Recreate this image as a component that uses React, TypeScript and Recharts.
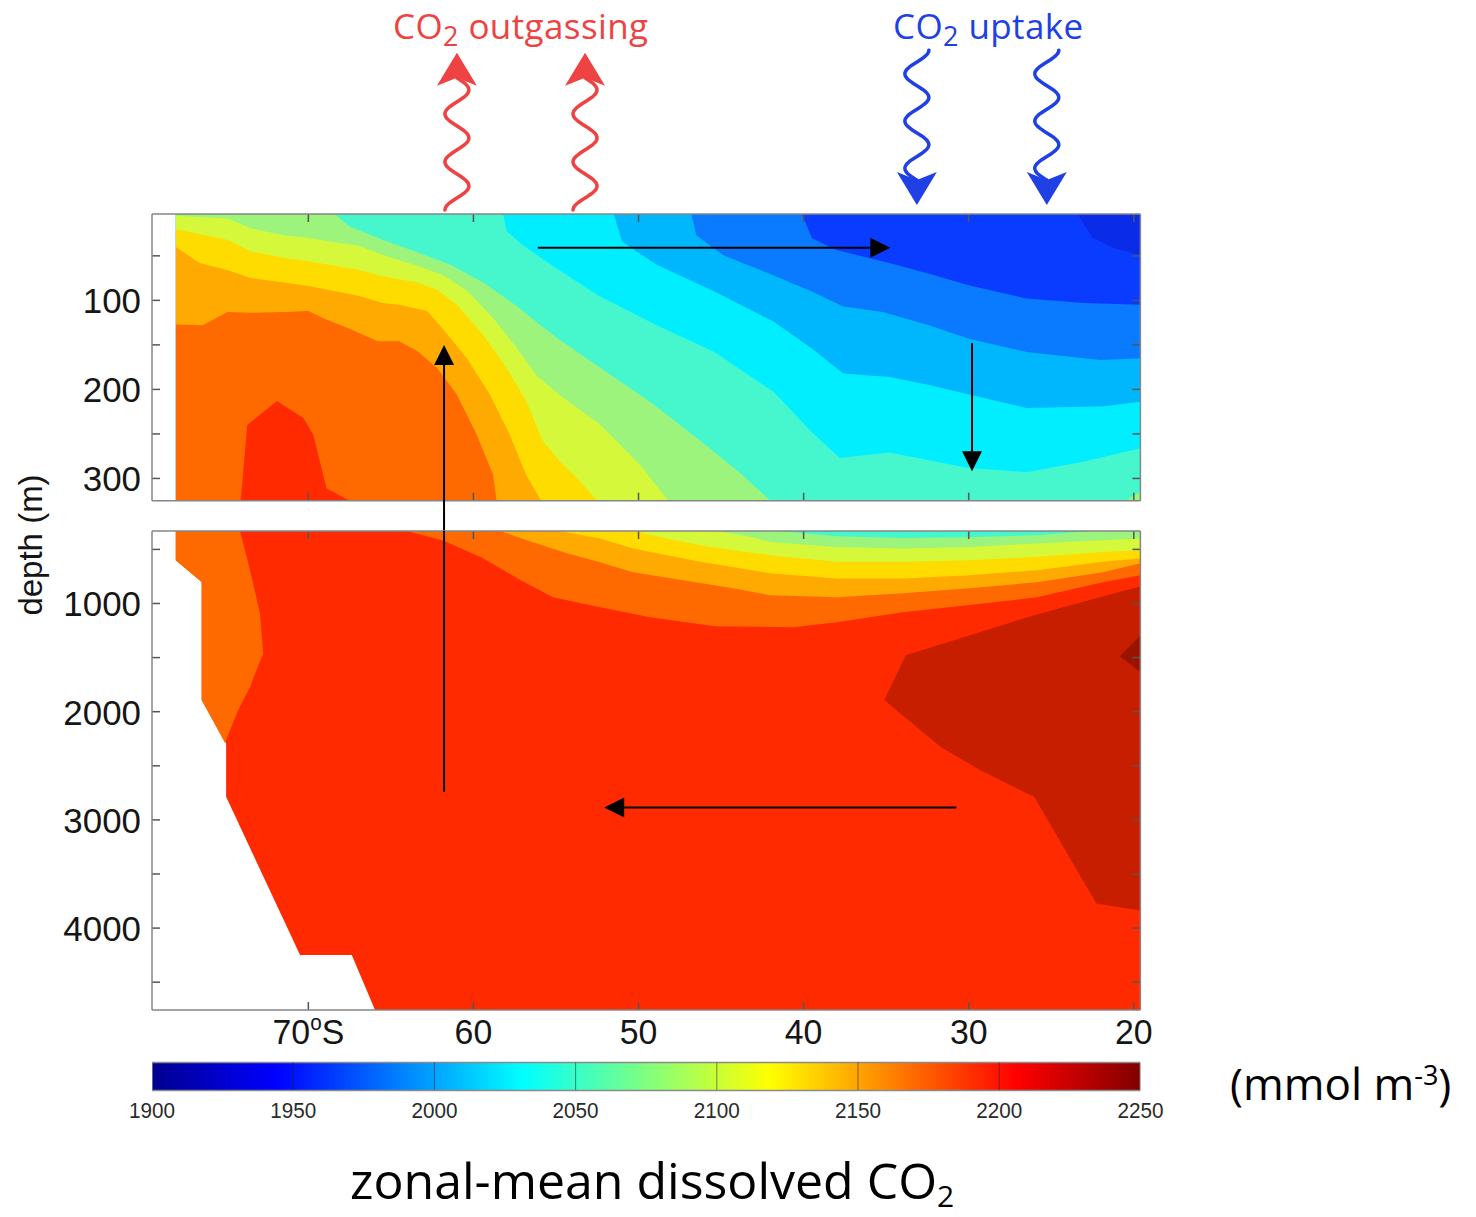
import React from 'react'
import {
  ComposedChart, Area, XAxis, YAxis, ReferenceLine, BarChart, Bar,
} from 'recharts'

type Pt = [number, number]          // [latitude S, depth m]
type Span = [number, number, number] // [latitude S, top depth, bottom depth]

const W = 1476
const H = 1217

// shared latitude axis (degrees S, 70S on the left)
const LAT_DOMAIN: [number, number] = [19.6, 79.47]
const LAT_TICKS = [70, 60, 50, 40, 30, 20]

// upper panel (surface layer)
const UPPER_DOMAIN: [number, number] = [3, 325]
const UPPER_TICKS = [50, 100, 150, 200, 250, 300]
const UPPER_LABELS = [100, 200, 300]

// lower panel (deep ocean)
const LOWER_DOMAIN: [number, number] = [330, 4757]
const LOWER_TICKS = [500, 1000, 1500, 2000, 2500, 3000, 3500, 4000, 4500]
const LOWER_LABELS = [1000, 2000, 3000, 4000]

// colour bar, mmol m-3
const CO2_DOMAIN: [number, number] = [1900, 2250]
const CO2_TICKS = [1900, 1950, 2000, 2050, 2100, 2150, 2200, 2250]
const CO2_BAR = [{ name: 'dic', range: [1900, 2250] }]
const JET_STOPS: [number, string][] = [
  [0, '#00008f'], [0.125, '#0000ff'], [0.375, '#00ffff'],
  [0.625, '#ffff00'], [0.875, '#ff0000'], [1, '#800000'],
]

// filled contour colours, 1925-1950 ... 2250+
const BAND = [
  '#0a2ce8', '#0a3cff', '#0a7aff', '#00b6fc', '#00eeff', '#46f6cc', '#9cf47c',
  '#d6f83a', '#ffdc00', '#ffaa00', '#ff6a00', '#ff2a00', '#c81e00', '#9a1200',
]

// ---- upper panel contours: values above each level lie below the line ----
const UPPER_EXTENT: Pt[] = [[78.02, 3], [19.6, 3]]
const U1950: Pt[] = [[78.02, 3], [23.4, 3], [23.1, 12], [22.5, 30], [21.1, 42], [19.6, 49]]
const U1975: Pt[] = [[78.02, 3], [40.1, 3], [39.5, 30], [38.1, 43], [34.8, 58], [32.4, 70], [30.0, 83], [26.5, 98], [23.0, 103], [19.6, 105]]
const U2000: Pt[] = [[78.02, 3], [46.8, 3], [46.5, 27], [44.9, 49], [41.8, 72], [39.5, 90], [37.6, 107], [35.2, 113], [32.4, 128], [30.0, 143], [26.5, 158], [22.0, 167], [19.6, 165]]
const U2025: Pt[] = [[78.02, 3], [51.5, 3], [51.0, 34], [48.9, 60], [45.4, 90], [41.8, 124], [39.5, 154], [37.6, 182], [34.8, 186], [32.4, 195], [26.5, 221], [21.8, 219], [19.6, 214]]
const U2050: Pt[] = [[78.02, 3], [58.2, 3], [58.0, 22], [57.0, 38], [55.7, 55], [52.5, 94], [48.9, 128], [45.4, 158], [41.8, 203], [39.5, 248], [37.8, 277], [34.8, 271], [30.1, 288], [26.5, 293], [23.0, 281], [19.6, 266]]
const U2075: Pt[] = [[78.02, 3], [68.4, 3], [67.5, 17], [65.5, 32], [63.4, 46], [61.4, 60], [59.4, 80], [57.4, 106], [55.8, 130], [54.8, 144], [52.3, 176], [49.3, 214], [46.3, 257], [43.9, 293], [42.0, 325], [20.5, 325], [19.6, 315]]
const U2100: Pt[] = [[78.02, 5], [74.9, 8], [73.5, 19], [71.5, 27], [70.0, 30], [66.9, 39], [65.5, 49], [63.4, 61], [61.8, 72], [60.4, 89], [58.8, 120], [57.4, 153], [56.2, 184], [54.8, 206], [52.3, 240], [49.9, 285], [48.2, 325], [19.6, 325]]
const U2125: Pt[] = [[78.02, 20], [74.9, 32], [73.5, 45], [71.5, 52], [70.0, 56], [66.9, 66], [65.5, 73], [63.4, 80], [62.2, 88], [61.0, 105], [59.4, 139], [58.0, 176], [56.8, 213], [55.8, 258], [54.8, 280], [53.6, 302], [52.5, 325], [19.6, 325]]
const U2150: Pt[] = [[78.02, 40], [76.6, 58], [74.9, 66], [73.5, 75], [71.5, 80], [70.0, 84], [66.9, 95], [65.5, 103], [64.5, 105], [62.8, 112], [61.9, 131], [60.4, 165], [59.0, 206], [57.8, 251], [56.8, 296], [55.9, 325], [19.6, 325]]
const U2175: Pt[] = [[78.02, 127], [76.4, 128], [74.9, 113], [73.5, 114], [71.5, 113], [70.0, 112], [69.1, 120], [67.5, 132], [65.8, 146], [64.5, 146], [63.4, 157], [62.2, 176], [61.0, 206], [59.8, 251], [58.8, 296], [58.6, 325], [19.6, 325]]
const U2200: Pt[] = [[74.1, 325], [73.7, 240], [71.9, 213], [70.3, 232], [69.7, 251], [68.9, 311], [67.5, 325]]

// ---- lower panel ----
const OCEAN_FLOOR: Pt[] = [[78.03, 600], [76.46, 801], [76.46, 1893], [74.98, 2293], [74.98, 2787], [70.5, 4249], [67.37, 4249], [65.96, 4757], [19.6, 4757]]
const L_WEST_2200: Span[] = [[78.03, 330, 600], [76.46, 330, 801], [76.46, 330, 1893], [75.05, 330, 2290], [74.34, 330, 2016], [74.14, 330, 1951], [73.53, 692, 1771], [72.93, 1092, 1533], [72.73, 1462, 1462]]
// values below each level lie above the line
const L2200: Pt[] = [[64.04, 330], [61.84, 417], [59.42, 581], [57.36, 766], [55.18, 942], [52.33, 1034], [49.31, 1127], [45.37, 1210], [40.65, 1219], [37.99, 1173], [33.99, 1080], [29.93, 1015], [25.87, 942], [21.87, 803], [19.6, 738]]
const L2175: Pt[] = [[58.39, 330], [56.39, 433], [54.33, 535], [52.33, 618], [50.33, 711], [47.3, 785], [44.28, 859], [42.04, 923], [37.99, 942], [33.99, 905], [29.93, 859], [25.87, 803], [21.87, 711], [19.6, 627]]
const L2150: Pt[] = [[54.76, 330], [52.33, 399], [50.33, 492], [48.28, 553], [46.28, 615], [44.28, 662], [42.04, 720], [37.99, 769], [33.99, 769], [29.93, 738], [25.87, 692], [21.87, 615], [19.6, 584]]
const L2125: Pt[] = [[50.31, 330], [48.29, 399], [46.28, 461], [44.26, 507], [42.04, 553], [38.0, 615], [33.99, 615], [29.93, 600], [25.87, 569], [21.87, 523], [19.6, 507]]
const L2100: Pt[] = [[45.26, 330], [43.24, 384], [42.04, 431], [38.0, 477], [33.99, 492], [29.93, 477], [25.87, 445], [21.87, 415], [19.6, 399]]
const L2075: Pt[] = [[41.43, 330], [38.0, 378], [33.99, 394], [29.93, 387], [25.87, 369], [22.66, 330]]
const L2225: Span[] = [[35.11, 1893, 1893], [33.81, 1478, 2058], [31.69, 1376, 2326], [29.33, 1265, 2539], [26.03, 1108, 2789], [22.27, 951, 3772], [19.6, 840, 3837]]
const L2250: Span[] = [[20.84, 1488, 1488], [19.6, 1293, 1634]]

// ---- circulation arrows [lat, depth] ----
const FLOW_SURFACE: Pt[] = [[56.1, 41], [34.75, 41]]
const FLOW_SINK: Pt[] = [[29.8, 148], [29.8, 292]]
const FLOW_RISE_UPPER: Pt[] = [[61.78, 359], [61.78, 150]]
const FLOW_RISE_LOWER: Pt[] = [[61.78, 2740], [61.78, 330]]
const FLOW_DEEP: Pt[] = [[30.75, 2885], [52.08, 2885]]

// air-sea exchange arrows (lat) and their depth extent above the surface
const OUTGAS_LATS = [61.0, 53.24]
const OUTGAS_DEPTHS: [number, number] = [-1.5, -178]
const UPTAKE_LATS = [33.14, 25.27]
const UPTAKE_DEPTHS: [number, number] = [-181, -7]

const FRAME = '#868686'
const TICK = '#555'
const TICK_FONT = '"Liberation Sans", Arial, Helvetica, sans-serif'
const TITLE_FONT = '"Open Sans", "DejaVu Sans", sans-serif'
const RED = '#ef4242'
const BLUE = '#1f40e4'

const below = (pts: Pt[]) => pts.map(([lat, d]) => ({ lat, v: [d, UPPER_DOMAIN[1]] }))
const above = (pts: Pt[]) => pts.map(([lat, d]) => ({ lat, v: [LOWER_DOMAIN[0], d] }))
const spans = (pts: Span[]) => pts.map(([lat, a, b]) => ({ lat, v: [a, b] }))

const UPPER_LAYERS = [
  { id: 'u1925', color: BAND[0], data: below(UPPER_EXTENT) },
  { id: 'u1950', color: BAND[1], data: below(U1950) },
  { id: 'u1975', color: BAND[2], data: below(U1975) },
  { id: 'u2000', color: BAND[3], data: below(U2000) },
  { id: 'u2025', color: BAND[4], data: below(U2025) },
  { id: 'u2050', color: BAND[5], data: below(U2050) },
  { id: 'u2075', color: BAND[6], data: below(U2075) },
  { id: 'u2100', color: BAND[7], data: below(U2100) },
  { id: 'u2125', color: BAND[8], data: below(U2125) },
  { id: 'u2150', color: BAND[9], data: below(U2150) },
  { id: 'u2175', color: BAND[10], data: below(U2175) },
  { id: 'u2200', color: BAND[11], data: below(U2200) },
]

const LOWER_LAYERS = [
  { id: 'l-ocean', color: BAND[11], data: above(OCEAN_FLOOR) },
  { id: 'l-west', color: BAND[10], data: spans(L_WEST_2200) },
  { id: 'l2200', color: BAND[10], data: above(L2200) },
  { id: 'l2175', color: BAND[9], data: above(L2175) },
  { id: 'l2150', color: BAND[8], data: above(L2150) },
  { id: 'l2125', color: BAND[7], data: above(L2125) },
  { id: 'l2100', color: BAND[6], data: above(L2100) },
  { id: 'l2075', color: BAND[5], data: above(L2075) },
  { id: 'l2225', color: BAND[12], data: spans(L2225) },
  { id: 'l2250', color: BAND[13], data: spans(L2250) },
]

// ---- tick labels (labels only; the marks are drawn as reference lines on top) ----
const leftLabel = (labels: number[]) => (p: any) => {
  const { x, y, payload } = p
  if (!labels.includes(payload.value)) return <g />
  return (
    <text transform={`translate(${x - 1},${y + 13}) scale(0.97,1)`} textAnchor="end"
      fontSize={36} fontFamily={TICK_FONT} fill="#151515">{payload.value}</text>
  )
}
const latLabel = (p: any) => {
  const { x, y, payload } = p
  const v = payload.value
  return (
    <text transform={`translate(${x},${y + 34}) scale(0.94,1)`} textAnchor="middle"
      fontSize={36} fontFamily={TICK_FONT} fill="#151515">
      {v}
      {v === 70 && <tspan fontSize={22} dy={-14}>o</tspan>}
      {v === 70 && <tspan dy={14}>S</tspan>}
    </text>
  )
}
const colorbarTick = (p: any) => (
  <text transform={`translate(${p.x},${p.y + 28}) scale(0.94,1)`} textAnchor="middle"
    fontSize={22} fontFamily={TICK_FONT} fill="#2a2a2a">{p.payload.value}</text>
)

// inward tick marks at both ends of a reference line
const endTicks = (p: any) => {
  const { x1, y1, x2, y2 } = p
  const n = 8
  if (Math.abs(y1 - y2) < 0.5) {
    const a = Math.min(x1, x2)
    const b = Math.max(x1, x2)
    return (
      <g stroke={TICK} strokeWidth={1.5}>
        <line x1={a} x2={a + n} y1={y1} y2={y1} />
        <line x1={b - n} x2={b} y1={y1} y2={y1} />
      </g>
    )
  }
  const a = Math.min(y1, y2)
  const b = Math.max(y1, y2)
  return (
    <g stroke={TICK} strokeWidth={1.5}>
      <line x1={x1} x2={x1} y1={a} y2={a + n} />
      <line x1={x1} x2={x1} y1={b - n} y2={b} />
    </g>
  )
}

// ---- arrow shapes ----
const arrowShape = (head: boolean) => (p: any) => {
  const { x1, y1, x2, y2 } = p
  const dx = x2 - x1
  const dy = y2 - y1
  const len = Math.hypot(dx, dy) || 1
  const ux = dx / len
  const uy = dy / len
  const hl = head ? 20 : 0
  const hw = 10
  const bx = x2 - ux * hl
  const by = y2 - uy * hl
  return (
    <g>
      <line x1={x1} y1={y1} x2={bx} y2={by} stroke="#000" strokeWidth={2} />
      {head && (
        <polygon points={`${x2},${y2} ${bx - uy * hw},${by + ux * hw} ${bx + uy * hw},${by - ux * hw}`} fill="#000" />
      )}
    </g>
  )
}

const wavyShape = (color: string, phase: number) => (p: any) => {
  const { x1, y1, x2, y2 } = p
  const dir = y2 > y1 ? 1 : -1
  const notch = 25
  const barb = 33
  const half = 20
  const amp = 12
  const len = Math.abs(y2 - y1) - notch
  const period = len / 2.75
  const pts: string[] = []
  for (let s = 0; s < len; s += 1.5) {
    const off = phase * amp * Math.cos((2 * Math.PI * s) / period)
    pts.push(`${(x1 + off).toFixed(1)},${(y1 + dir * s).toFixed(1)}`)
  }
  pts.push(`${x1},${(y1 + dir * len).toFixed(1)}`)
  const headPath = `M${x2},${y2}L${x2 + half},${y2 - dir * barb}L${x2},${y2 - dir * notch}L${x2 - half},${y2 - dir * barb}Z`
  return (
    <g>
      <path d={'M' + pts.join('L')} fill="none" stroke={color} strokeWidth={3.5} strokeLinecap="round" />
      <path d={headPath} fill={color} />
    </g>
  )
}

const seg = (a: Pt, b: Pt) => [{ x: a[0], y: a[1] }, { x: b[0], y: b[1] }]

// box + inward ticks, drawn above the filled contours
function frameLines(domain: [number, number], ticks: number[]) {
  return [
    ...LAT_TICKS.map((v) => (
      <ReferenceLine key={'xt' + v} xAxisId="b" yAxisId="l" x={v} ifOverflow="visible" shape={endTicks} />
    )),
    ...ticks.map((v) => (
      <ReferenceLine key={'yt' + v} xAxisId="b" yAxisId="l" y={v} ifOverflow="visible" shape={endTicks} />
    )),
    ...LAT_DOMAIN.map((v) => (
      <ReferenceLine key={'fx' + v} xAxisId="b" yAxisId="l" x={v} ifOverflow="visible" stroke={FRAME} strokeWidth={1.5} />
    )),
    ...domain.map((v) => (
      <ReferenceLine key={'fy' + v} xAxisId="b" yAxisId="l" y={v} ifOverflow="visible" stroke={FRAME} strokeWidth={1.5} />
    )),
  ]
}

function UpperPanel() {
  return (
    <ComposedChart width={W} height={H} margin={{ top: 214, right: 335.6, bottom: 716.3, left: 82 }}>
      {UPPER_LAYERS.map((layer) => (
        <Area key={layer.id} data={layer.data} dataKey="v" xAxisId="b" yAxisId="l" type="linear"
          stroke="none" fill={layer.color} fillOpacity={1} dot={false} activeDot={false}
          isAnimationActive={false} />
      ))}
      <XAxis xAxisId="b" dataKey="lat" type="number" domain={LAT_DOMAIN} reversed allowDataOverflow
        ticks={LAT_TICKS} interval={0} height={0} tickLine={false} axisLine={false} tick={false} />
      <YAxis yAxisId="l" type="number" domain={UPPER_DOMAIN} reversed allowDataOverflow
        ticks={UPPER_TICKS} interval={0} width={70} tickSize={0} tickMargin={10} tickLine={false}
        axisLine={false} tick={leftLabel(UPPER_LABELS)} />
      {frameLines(UPPER_DOMAIN, UPPER_TICKS)}
      <ReferenceLine xAxisId="b" yAxisId="l" segment={seg(FLOW_SURFACE[0], FLOW_SURFACE[1])} ifOverflow="visible" shape={arrowShape(true)} />
      <ReferenceLine xAxisId="b" yAxisId="l" segment={seg(FLOW_SINK[0], FLOW_SINK[1])} ifOverflow="visible" shape={arrowShape(true)} />
      <ReferenceLine xAxisId="b" yAxisId="l" segment={seg(FLOW_RISE_UPPER[0], FLOW_RISE_UPPER[1])} ifOverflow="visible" shape={arrowShape(true)} />
      {OUTGAS_LATS.map((lat) => (
        <ReferenceLine key={'o' + lat} xAxisId="b" yAxisId="l" ifOverflow="visible"
          segment={seg([lat, OUTGAS_DEPTHS[0]], [lat, OUTGAS_DEPTHS[1]])} shape={wavyShape(RED, -1)} />
      ))}
      {UPTAKE_LATS.map((lat) => (
        <ReferenceLine key={'u' + lat} xAxisId="b" yAxisId="l" ifOverflow="visible"
          segment={seg([lat, UPTAKE_DEPTHS[0]], [lat, UPTAKE_DEPTHS[1]])} shape={wavyShape(BLUE, 1)} />
      ))}
    </ComposedChart>
  )
}

function LowerPanel() {
  return (
    <ComposedChart width={W} height={H} margin={{ top: 531, right: 335.6, bottom: 157, left: 82 }}>
      {LOWER_LAYERS.map((layer) => (
        <Area key={layer.id} data={layer.data} dataKey="v" xAxisId="b" yAxisId="l" type="linear"
          stroke="none" fill={layer.color} fillOpacity={1} dot={false} activeDot={false}
          isAnimationActive={false} />
      ))}
      <XAxis xAxisId="b" dataKey="lat" type="number" domain={LAT_DOMAIN} reversed allowDataOverflow
        ticks={LAT_TICKS} interval={0} height={50} tickSize={0} tickMargin={0} tickLine={false}
        axisLine={false} tick={latLabel} />
      <YAxis yAxisId="l" type="number" domain={LOWER_DOMAIN} reversed allowDataOverflow
        ticks={LOWER_TICKS} interval={0} width={70} tickSize={0} tickMargin={10} tickLine={false}
        axisLine={false} tick={leftLabel(LOWER_LABELS)} />
      {frameLines(LOWER_DOMAIN, LOWER_TICKS)}
      <ReferenceLine xAxisId="b" yAxisId="l" segment={seg(FLOW_RISE_LOWER[0], FLOW_RISE_LOWER[1])} ifOverflow="visible" shape={arrowShape(false)} />
      <ReferenceLine xAxisId="b" yAxisId="l" segment={seg(FLOW_DEEP[0], FLOW_DEEP[1])} ifOverflow="visible" shape={arrowShape(true)} />
    </ComposedChart>
  )
}

function ColorBar() {
  return (
    <BarChart width={W} height={H} layout="vertical" data={CO2_BAR} barCategoryGap={0}
      margin={{ top: 1062.5, right: 335.6, bottom: 87, left: 152 }}>
      <defs>
        <linearGradient id="jet" x1="0" y1="0" x2="1" y2="0">
          {JET_STOPS.map(([o, c]) => <stop key={o} offset={o} stopColor={c} />)}
        </linearGradient>
      </defs>
      <XAxis type="number" domain={CO2_DOMAIN} allowDataOverflow ticks={CO2_TICKS} interval={0}
        height={40} tickSize={0} tickMargin={0} tickLine={false} axisLine={false} tick={colorbarTick} />
      <YAxis type="category" dataKey="name" hide />
      <Bar dataKey="range" fill="url(#jet)" stroke="#8a8a8a" strokeWidth={1.5} isAnimationActive={false} />
      {CO2_TICKS.slice(1, -1).map((v) => (
        <ReferenceLine key={v} x={v} stroke="#222" strokeOpacity={0.55} strokeWidth={1} />
      ))}
    </BarChart>
  )
}

const layer: React.CSSProperties = { position: 'absolute', left: 0, top: 0 }

export default function App() {
  return (
    <div style={{ position: 'absolute', left: 0, top: 0, width: W, height: H, background: '#fff', overflow: 'hidden' }}>
      <div style={layer}><UpperPanel /></div>
      <div style={layer}><LowerPanel /></div>
      <div style={layer}><ColorBar /></div>
      <svg width={W} height={H} style={{ ...layer, pointerEvents: 'none' }}>
        <text x={393} y={39} fill={RED} fontFamily={TITLE_FONT} fontSize={35} letterSpacing={0.4}>
          CO<tspan fontSize={27} dy={7}>2</tspan><tspan dy={-7}> outgassing</tspan>
        </text>
        <text x={893} y={39} fill={BLUE} fontFamily={TITLE_FONT} fontSize={35} letterSpacing={0.4}>
          CO<tspan fontSize={27} dy={7}>2</tspan><tspan dy={-7}> uptake</tspan>
        </text>
        <text transform="translate(42,545) rotate(-90)" textAnchor="middle" fontFamily={TICK_FONT}
          fontSize={33} fill="#151515">depth (m)</text>
        <text x={1230} y={1100} fontFamily={TITLE_FONT} fontSize={44} fill="#000">
          (mmol m<tspan fontSize={27} dy={-15}>-3</tspan><tspan dy={15}>)</tspan>
        </text>
        <text x={350} y={1199} fontFamily={TITLE_FONT} fontSize={50} fill="#000">
          zonal-mean dissolved CO<tspan fontSize={30} dy={8}>2</tspan>
        </text>
      </svg>
    </div>
  )
}
